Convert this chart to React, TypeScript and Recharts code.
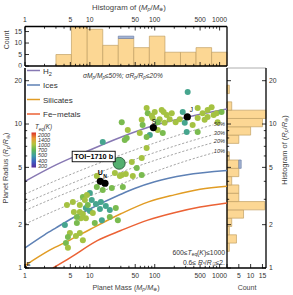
import React from 'react';
import { ComposedChart, XAxis, YAxis, Line, Scatter, ReferenceArea } from 'recharts';

const FONT = '"Liberation Sans", Arial, Helvetica, sans-serif';
const TXT = '#333';

// ---------- ticks ----------
const massMajorTicks = [1, 5, 10, 50, 100, 500, 1000];
const massMinorTicks = [2, 3, 4, 6, 7, 8, 9, 20, 30, 40, 60, 70, 80, 90, 200, 300, 400, 600, 700, 800, 900];
const radiusMajorTicks = [1, 2, 5, 10, 20];
const radiusMinorTicks = [3, 4, 6, 7, 8, 9];
const countTicks = [0, 5, 10, 15];
const countLabelsRight = [5, 10, 15];

// ---------- histograms ----------
const massBinEdges = [3.0, 5.2, 9.1, 15.8, 27.4, 47.5, 82.6, 143.6, 249.5, 433.5, 753, 1300];
const massCounts = [5, 17, 16, 9, 12, 8, 13, 6, 6, 8, 6];
const massHighlightCounts = [0, 0, 0, 0, 1, 0, 0, 0, 0, 0, 0];

const radiusBinEdges = [1.0, 1.142, 1.304, 1.49, 1.701, 1.943, 2.219, 2.534, 2.894, 3.306, 3.776, 4.312, 4.925, 5.625, 6.424, 7.337, 8.38, 9.57, 10.93, 12.48, 14.26, 16.28, 18.6];
const radiusCounts = [0, 0, 1, 4, 1, 2, 7, 16, 5, 5, 2, 5, 5, 1, 0, 5, 10, 15, 16.5, 2, 0, 1];
const radiusHighlightCounts = [0, 0, 0, 0, 0, 0, 0, 0, 0, 0, 0, 0, 1, 0, 0, 0, 0, 0, 0, 0, 0, 0];

// ---------- composition curves ----------
const h2Mass = [1, 3, 10, 30, 100, 300, 1300];
const h2Radius = [4.0, 5.2, 6.6, 8.1, 9.8, 11.1, 12.7];
const iceMass = [1, 2, 3, 5, 10, 30, 50, 100, 300, 1300];
const iceRadius = [1.38, 1.7, 1.9, 2.18, 2.57, 3.25, 3.58, 3.97, 4.42, 4.75];
const silMass = [1, 2.4, 5, 10, 30, 80, 200, 500, 1300];
const silRadius = [1.04, 1.33, 1.57, 1.85, 2.38, 2.88, 3.22, 3.52, 3.7];
const feMass = [2.7, 5, 13, 30, 78, 200, 500, 1300];
const feRadius = [1.0, 1.18, 1.55, 1.82, 2.15, 2.42, 2.65, 2.83];
const envMass = [1, 3, 10, 30, 100, 300, 800];
const env50Radius = [3.26, 4.05, 5.05, 6.1, 7.39, 8.69, 9.88];
const env30Radius = [2.83, 3.49, 4.35, 5.24, 6.34, 7.43, 8.44];
const env20Radius = [2.51, 3.1, 3.85, 4.63, 5.59, 6.54, 7.43];
const env10Radius = [2.02, 2.52, 3.16, 3.83, 4.67, 5.53, 6.31];
const envLabels = ['50%', '30%', '20%', '10%'];

// ---------- planets ----------
const planetMass = [322, 75, 100, 78, 128, 153, 183, 93, 119, 210, 243, 270, 459, 547, 653, 753, 899, 1073, 459, 63, 65, 111, 84, 142, 311, 459, 931, 75, 63, 31, 38.4, 15.8, 37, 58.8, 75, 52.8, 44.3, 63, 31, 133, 290, 384, 653, 12.8, 29, 35.8, 45.9, 21.8, 12.8, 15.8, 10, 7.8, 5.47, 4.43, 7.0, 10.7, 12.4, 14.8, 8.68, 14.3, 20.3, 25.1, 17.6, 7.0, 7.8, 8.68, 7.27, 6.3, 4.12, 6.3, 15.3, 20.3, 27, 4.92, 7.0, 6.1, 7.8, 4.59, 4.27, 4.59, 24.3, 32.2, 11.9, 8.38, 10, 90, 111, 137, 170, 588, 809, 5.67, 9.3, 11.1, 34.5, 9.0];
const planetRadius = [16.7, 12.9, 12.1, 11.9, 12.5, 11.55, 11.9, 11.0, 10.8, 10.3, 10.8, 12.1, 11.0, 11.9, 12.5, 13.1, 11.9, 12.1, 12.9, 10.7, 9.84, 9.08, 8.39, 10.2, 8.8, 8.8, 10.3, 6.81, 5.81, 10.3, 9.08, 7.5, 8.0, 8.66, 8.13, 4.95, 5.45, 4.43, 4.43, 8.66, 10.2, 9.84, 11.2, 4.35, 4.35, 4.5, 4.35, 3.59, 3.65, 3.48, 3.32, 3.11, 2.87, 2.74, 2.74, 2.97, 2.78, 2.87, 2.61, 2.57, 2.53, 2.61, 2.7, 2.45, 2.37, 2.22, 2.22, 2.26, 1.99, 2.05, 2.15, 2.26, 2.15, 1.75, 1.75, 1.67, 1.56, 1.64, 1.49, 1.38, 4.57, 3.65, 2.05, 2.97, 2.49, 11.4, 10.3, 12.1, 10.8, 10.7, 11.55, 2.45, 2.74, 2.41, 7.74, 3.21];
const planetTeq = [560, 950, 950, 800, 950, 950, 950, 950, 950, 950, 950, 560, 950, 950, 950, 950, 950, 800, 950, 950, 800, 950, 560, 950, 560, 800, 950, 950, 950, 800, 950, 560, 800, 950, 800, 800, 950, 800, 950, 800, 560, 950, 950, 950, 950, 950, 950, 800, 800, 800, 560, 800, 950, 950, 950, 560, 560, 560, 560, 560, 560, 800, 560, 950, 950, 950, 950, 800, 560, 800, 560, 800, 800, 950, 950, 950, 950, 800, 800, 950, 950, 800, 800, 950, 560, 950, 800, 950, 950, 950, 950, 950, 800, 950, 800, 950];

const solarNames = ['E', 'U', 'N', 'S', 'J'];
const solarMass = [1, 14.5, 17.1, 95.2, 317.8];
const solarRadius = [1, 4.0, 3.88, 9.45, 11.21];

const toiName = 'TOI\u22121710 b';
const toiMass = [28.3];
const toiRadius = [5.34];
const toiTeq = [640];

// ---------- colour map ----------
const teqStops = [300, 400, 500, 700, 1000, 1400, 2000];
const teqColors = ['#5a2b9a', '#3e5fc2', '#3c9ea6', '#5eb657', '#b3c43e', '#ec9a35', '#d9312a'];

function hexToRgb(h: string) {
  const n = parseInt(h.slice(1), 16);
  return [(n >> 16) & 255, (n >> 8) & 255, n & 255];
}
function teqColor(t: number) {
  const s = teqStops;
  if (t <= s[0]) return teqColors[0];
  if (t >= s[s.length - 1]) return teqColors[s.length - 1];
  let i = 0;
  while (t > s[i + 1]) i++;
  const f = (t - s[i]) / (s[i + 1] - s[i]);
  const a = hexToRgb(teqColors[i]);
  const b = hexToRgb(teqColors[i + 1]);
  const c = a.map((v, k) => Math.round(v + (b[k] - v) * f));
  return `rgb(${c[0]},${c[1]},${c[2]})`;
}

// rich text: parts [text, flags] where flags may contain 's' (subscript) and 'i' (italic)
function rich(parts: [string, string?][], fs: number) {
  let cur = 0;
  return parts.map(([t, f = ''], k) => {
    const target = f.includes('s') ? fs * 0.25 : 0;
    const dy = target - cur;
    cur = target;
    return (
      <tspan
        key={k}
        dy={dy !== 0 ? dy : undefined}
        fontSize={f.includes('s') ? fs * 0.7 : undefined}
        fontStyle={f.includes('i') ? 'italic' : undefined}
      >
        {t}
      </tspan>
    );
  });
}

// ---------- tick renderer ----------
type Side = 'bottom' | 'top' | 'left' | 'right';
function makeTick(side: Side, majors: number[], labelled: number[], fs = 6.8) {
  return (p: any) => {
    const v = p.payload ? p.payload.value : undefined;
    const x = p.x;
    const y = p.y;
    const L = majors.includes(v) ? 4 : 2.2;
    const show = labelled.includes(v);
    const ts = { fontSize: fs, fill: TXT, fontFamily: FONT } as any;
    let line: any = null;
    let label: any = null;
    if (side === 'bottom') {
      line = <line x1={x} y1={y} x2={x} y2={y - L} stroke="#000" strokeWidth={0.8} />;
      if (show) label = <text x={x} y={y + 9.5} textAnchor="middle" style={ts}>{v}</text>;
    } else if (side === 'top') {
      line = <line x1={x} y1={y} x2={x} y2={y + L} stroke="#000" strokeWidth={0.8} />;
      if (show) label = <text x={x} y={y - 4.5} textAnchor="middle" style={ts}>{v}</text>;
    } else if (side === 'left') {
      line = <line x1={x} y1={y} x2={x + L} y2={y} stroke="#000" strokeWidth={0.8} />;
      if (show) label = <text x={x - 3} y={y + 2.4} textAnchor="end" style={ts}>{v}</text>;
    } else {
      line = <line x1={x} y1={y} x2={x - L} y2={y} stroke="#000" strokeWidth={0.8} />;
      if (show) label = <text x={x + 3} y={y + 2.4} textAnchor="start" style={ts}>{v}</text>;
    }
    return (
      <g>
        {line}
        {label}
      </g>
    );
  };
}
const noTick = () => <g />;

const massAllTicks = [...massMajorTicks, ...massMinorTicks].sort((a, b) => a - b);
const radiusAllTicks = [...radiusMajorTicks, ...radiusMinorTicks].sort((a, b) => a - b);

const axisCommon = {
  type: 'number' as const,
  allowDataOverflow: true,
  interval: 0 as const,
  tickSize: 0,
  tickMargin: 0,
  tickLine: false,
};
const frame = { stroke: '#000', strokeWidth: 1.3 };

const HIST_FILL = '#fcd794';
const HIST_STROKE = '#c2a064';
const HL_FILL = '#a6b6d6';
const HL_STROKE = '#6d7fa6';

// ---------- shapes ----------
const dotShape = (p: any) => <circle cx={p.cx} cy={p.cy} r={3} fill={teqColor(p.payload.t)} />;

const solarShape = (p: any) => {
  const n = p.payload.name;
  const cx = p.cx;
  const cy = p.cy;
  const ts = { fontFamily: FONT, fill: '#000' } as any;
  let lab: any = null;
  if (n === 'E') lab = <text x={cx + 1.5} y={cy - 2.5} style={{ ...ts, fontSize: 6 }}>E</text>;
  if (n === 'U') lab = <text x={cx} y={cy - 6} textAnchor="middle" style={{ ...ts, fontSize: 7, fontWeight: 'bold' }}>U</text>;
  if (n === 'N') lab = <text x={cx} y={cy - 5} textAnchor="middle" style={{ ...ts, fontSize: 5, fontWeight: 'bold' }}>N</text>;
  if (n === 'S') lab = <text x={cx + 0.5} y={cy - 3.5} textAnchor="middle" style={{ ...ts, fontSize: 6.5 }}>S</text>;
  if (n === 'J') lab = <text x={cx + 2.5} y={cy - 5} style={{ ...ts, fontSize: 6.5 }}>J</text>;
  return (
    <g>
      <circle cx={cx} cy={cy} r={n === 'E' ? 2.2 : 3.6} fill="#000" />
      {lab}
    </g>
  );
};

const toiShape = (p: any) => {
  const cx = p.cx;
  const cy = p.cy;
  return (
    <g>
      <circle cx={cx} cy={cy} r={6} fill={teqColor(p.payload.t)} stroke="#2d5a3c" strokeWidth={0.9} />
      <rect x={cx - 47} y={cy - 12} width={43} height={10.5} fill="#fff" stroke="#000" strokeWidth={0.9} />
      <text x={cx - 25.5} y={cy - 4.2} textAnchor="middle" style={{ fontFamily: FONT, fontSize: 7.3, fontWeight: 'bold', fill: '#000' }}>
        {p.payload.name}
      </text>
    </g>
  );
};

export default function App() {
  const planets = planetMass.map((m, i) => ({ m, r: planetRadius[i], t: planetTeq[i] }));
  const solar = solarMass.map((m, i) => ({ m, r: solarRadius[i], name: solarNames[i] }));
  const toi = toiMass.map((m, i) => ({ m, r: toiRadius[i], t: toiTeq[i], name: toiName }));
  const curve = (ms: number[], rs: number[]) => ms.map((m, i) => ({ m, r: rs[i] }));
  const envCurves = [env50Radius, env30Radius, env20Radius, env10Radius].map((rs) => curve(envMass, rs));
  const compCurves = [
    { d: curve(h2Mass, h2Radius), c: '#8778B3' },
    { d: curve(iceMass, iceRadius), c: '#5E81B5' },
    { d: curve(silMass, silRadius), c: '#E19C24' },
    { d: curve(feMass, feRadius), c: '#EB6235' },
  ];
  const legendItems: { parts: [string, string?][]; c: string; y: number }[] = [
    { parts: [['H'], ['2', 's']], c: '#8778B3', y: 70.5 },
    { parts: [['Ices']], c: '#5E81B5', y: 85 },
    { parts: [['Silicates']], c: '#E19C24', y: 99.5 },
    { parts: [['Fe\u2212metals']], c: '#EB6235', y: 114 },
  ];
  const envLabelY = [124, 133, 141, 150.5];
  const cbarLabels = ['2000', '1400', '1000', '700', '500', '400', '300'];

  const ts = (fs: number, extra: any = {}) => ({ fontFamily: FONT, fontSize: fs, fill: TXT, ...extra });

  return (
    <div style={{ position: 'absolute', left: 0, top: 0, width: 293, height: 295, background: '#fff', fontFamily: FONT }}>
      {/* top histogram */}
      <div style={{ position: 'absolute', left: 0, top: 0 }}>
        <ComposedChart width={293} height={295} margin={{ top: 25.5, right: 65, bottom: 228, left: 24 }} data={massCounts.map((c, i) => ({ m: massBinEdges[i], c }))}>
          <XAxis xAxisId="top" orientation="top" dataKey="m" scale="log" domain={[1, 1300]} ticks={massAllTicks} height={1} axisLine={frame} tick={makeTick('top', massMajorTicks, massMajorTicks)} {...axisCommon} />
          <XAxis xAxisId="bot" orientation="bottom" dataKey="m" scale="log" domain={[1, 1300]} ticks={massAllTicks} height={1} axisLine={frame} tick={makeTick('bottom', massMajorTicks, [])} {...axisCommon} />
          <YAxis yAxisId="l" orientation="left" dataKey="c" domain={[0, 17.2]} ticks={countTicks} width={1} axisLine={frame} tick={makeTick('left', countTicks, countTicks)} {...axisCommon} />
          <YAxis yAxisId="r" orientation="right" dataKey="c" domain={[0, 17.2]} ticks={[0]} width={1} axisLine={frame} tick={noTick} {...axisCommon} />
          {massCounts.map((c, i) => (
            <ReferenceArea key={'m' + i} xAxisId="top" yAxisId="l" x1={massBinEdges[i]} x2={massBinEdges[i + 1]} y1={0} y2={c} fill={HIST_FILL} fillOpacity={1} stroke={HIST_STROKE} strokeWidth={0.7} ifOverflow="visible" />
          ))}
          {massHighlightCounts.map((h, i) =>
            h > 0 ? (
              <ReferenceArea key={'mh' + i} xAxisId="top" yAxisId="l" x1={massBinEdges[i]} x2={massBinEdges[i + 1]} y1={massCounts[i]} y2={massCounts[i] + h} fill={HL_FILL} fillOpacity={1} stroke={HL_STROKE} strokeWidth={0.7} ifOverflow="visible" />
            ) : null
          )}
        </ComposedChart>
      </div>

      {/* right histogram */}
      <div style={{ position: 'absolute', left: 0, top: 0 }}>
        <ComposedChart width={293} height={295} margin={{ top: 67, right: 26, bottom: 26, left: 226 }} data={radiusCounts.map((c, i) => ({ c, r: radiusBinEdges[i] }))}>
          <XAxis xAxisId="b" orientation="bottom" dataKey="c" domain={[0, 16.5]} ticks={countTicks} height={1} axisLine={frame} tick={makeTick('bottom', countTicks, countLabelsRight)} {...axisCommon} />
          <XAxis xAxisId="t" orientation="top" dataKey="c" domain={[0, 16.5]} ticks={[0]} height={1} axisLine={{ stroke: '#999', strokeWidth: 0.8 }} tick={noTick} {...axisCommon} />
          <YAxis yAxisId="l" orientation="left" dataKey="r" scale="log" domain={[1, 24.5]} ticks={radiusAllTicks} width={1} axisLine={frame} tick={makeTick('left', radiusMajorTicks, [])} {...axisCommon} />
          <YAxis yAxisId="r" orientation="right" dataKey="r" scale="log" domain={[1, 24.5]} ticks={radiusAllTicks} width={1} axisLine={frame} tick={makeTick('right', radiusMajorTicks, radiusMajorTicks)} {...axisCommon} />
          {radiusCounts.map((c, i) =>
            c > 0 ? (
              <ReferenceArea key={'r' + i} xAxisId="b" yAxisId="l" x1={0} x2={c} y1={radiusBinEdges[i]} y2={radiusBinEdges[i + 1]} fill={HIST_FILL} fillOpacity={1} stroke={HIST_STROKE} strokeWidth={0.7} ifOverflow="visible" />
            ) : null
          )}
          {radiusHighlightCounts.map((h, i) =>
            h > 0 ? (
              <ReferenceArea key={'rh' + i} xAxisId="b" yAxisId="l" x1={radiusCounts[i]} x2={radiusCounts[i] + h} y1={radiusBinEdges[i]} y2={radiusBinEdges[i + 1]} fill={HL_FILL} fillOpacity={1} stroke={HL_STROKE} strokeWidth={0.7} ifOverflow="visible" />
            ) : null
          )}
        </ComposedChart>
      </div>

      {/* main mass-radius diagram */}
      <div style={{ position: 'absolute', left: 0, top: 0 }}>
        <ComposedChart width={293} height={295} margin={{ top: 68, right: 66, bottom: 26, left: 24 }}>
          <XAxis dataKey="m" scale="log" domain={[1, 1300]} ticks={massAllTicks} height={1} axisLine={{ stroke: '#000', strokeWidth: 1.5 }} tick={makeTick('bottom', massMajorTicks, massMajorTicks)} {...axisCommon} />
          <YAxis dataKey="r" scale="log" domain={[1, 24.5]} ticks={radiusAllTicks} width={1} axisLine={{ stroke: '#000', strokeWidth: 1.5 }} tick={makeTick('left', radiusMajorTicks, radiusMajorTicks)} {...axisCommon} />
          {envCurves.map((d, i) => (
            <Line key={'env' + i} data={d} dataKey="r" type="monotone" stroke="#8e8e8e" strokeWidth={0.8} strokeDasharray="2.2 1.8" dot={false} activeDot={false} isAnimationActive={false} />
          ))}
          {compCurves.map((cc, i) => (
            <Line key={'comp' + i} data={cc.d} dataKey="r" type="monotone" stroke={cc.c} strokeWidth={1.5} dot={false} activeDot={false} isAnimationActive={false} />
          ))}
          <Scatter data={planets} shape={dotShape} isAnimationActive={false} />
          <Scatter data={solar} shape={solarShape} isAnimationActive={false} />
          <Scatter data={toi} shape={toiShape} isAnimationActive={false} />
        </ComposedChart>
      </div>

      {/* annotations */}
      <svg width={293} height={295} style={{ position: 'absolute', left: 0, top: 0, pointerEvents: 'none' }}>
        <defs>
          <linearGradient id="teqbar" x1="0" y1="1" x2="0" y2="0">
            {teqColors.map((c, i) => (
              <stop key={i} offset={`${(i / (teqColors.length - 1)) * 100}%`} stopColor={c} />
            ))}
          </linearGradient>
        </defs>
        {/* hide lower half of the top-histogram zero label */}
        <rect x={11} y={67.5} width={13} height={5} fill="#fff" />

        <text x={129} y={9.5} textAnchor="middle" style={ts(7.8, { fill: '#444' })}>
          {rich([['Histogram of ('], ['M', 'i'], ['p', 'si'], ['/'], ['M', 'i'], ['\u2295', 's'], [')']], 7.8)}
        </text>
        <text transform="translate(8.5,40) rotate(-90)" textAnchor="middle" style={ts(7, { fill: '#444' })}>Count</text>
        <text transform="translate(8,168) rotate(-90)" textAnchor="middle" style={ts(7.2, { fill: '#444' })}>
          {rich([['Planet Radius ('], ['R', 'i'], ['p', 'si'], ['/'], ['R', 'i'], ['\u2295', 's'], [')']], 7.2)}
        </text>
        <text x={126} y={289.5} textAnchor="middle" style={ts(7.2, { fill: '#444' })}>
          {rich([['Planet Mass ('], ['M', 'i'], ['p', 'si'], ['/'], ['M', 'i'], ['\u2295', 's'], [')']], 7.2)}
        </text>
        <text x={247} y={289.5} textAnchor="middle" style={ts(7, { fill: '#444' })}>Count</text>
        <text transform="translate(286.5,150) rotate(-90)" textAnchor="middle" style={ts(7.5, { fill: '#444' })}>
          {rich([['Histogram of ('], ['R', 'i'], ['p', 'si'], ['/'], ['R', 'i'], ['\u2295', 's'], [')']], 7.5)}
        </text>

        {/* subtitle */}
        <text x={83} y={77.5} style={ts(6.6, { fontStyle: 'italic' })}>
          {rich([['\u03c3M'], ['p', 's'], ['/M'], ['p', 's'], ['\u226450%; \u03c3R'], ['p', 's'], ['/R'], ['p', 's'], ['\u226420%']], 6.6)}
        </text>

        {/* legend */}
        {legendItems.map((it, i) => (
          <g key={'lg' + i}>
            <line x1={27} x2={40} y1={it.y} y2={it.y} stroke={it.c} strokeWidth={1.5} />
            <text x={43} y={it.y + 3} style={ts(8)}>
              {rich(it.parts, 8)}
            </text>
          </g>
        ))}

        {/* colour bar */}
        <text x={35} y={129} style={ts(6.3, { fontStyle: 'italic' })}>
          {rich([['T'], ['eq', 's'], ['(K)']], 6.3)}
        </text>
        <rect x={31.5} y={132.5} width={4.5} height={35} fill="url(#teqbar)" />
        {cbarLabels.map((l, i) => (
          <text key={'cb' + i} x={38} y={137 + i * 5.1} style={ts(5.4, { fontStyle: 'italic' })}>{l}</text>
        ))}

        {/* envelope labels */}
        {envLabels.map((l, i) => (
          <text key={'el' + i} x={225} y={envLabelY[i] + 2} textAnchor="end" style={ts(5.6, { fontStyle: 'italic' })}>{l}</text>
        ))}

        {/* sample description */}
        <text x={225} y={254.5} textAnchor="end" style={ts(6.8)}>
          {rich([['600\u2264'], ['T', 'i'], ['eq', 's'], ['('], ['K', 'i'], [')\u22641000']], 6.8)}
        </text>
        <text x={225} y={264.5} textAnchor="end" style={ts(6.8)}>
          {rich([['0.6\u2264 '], ['R', 'i'], ['*', 's'], ['/'], ['R', 'i'], ['\u2609', 's'], ['\u22642.']], 6.8)}
        </text>
      </svg>
    </div>
  );
}
